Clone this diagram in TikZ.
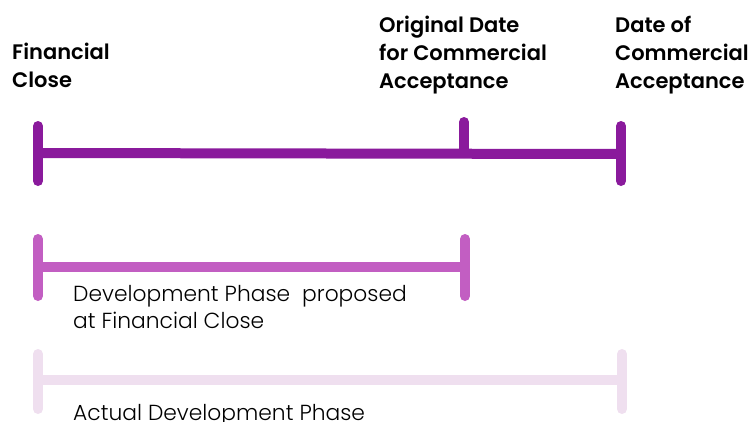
\documentclass[tikz,border=0pt]{standalone}
\usepackage{fontspec}
\setmainfont{Poppins}
\newfontfamily\popsemi{Poppins SemiBold}
\newfontfamily\poplight{Poppins Light}
\definecolor{barA}{HTML}{8A1A9C}
\definecolor{barB}{HTML}{C25EC2}
\definecolor{barC}{HTML}{EFDFEF}
\begin{document}
\begin{tikzpicture}[x=1pt,y=-1pt,
  bar/.style={line width=10pt,line cap=round},
  toplabel/.style={anchor=base west,inner sep=0pt,align=left,font=\popsemi\fontsize{21}{28}\selectfont},
  sublabel/.style={anchor=base west,inner sep=0pt,align=left,font=\poplight\fontsize{21.8}{27}\selectfont}]
\useasboundingbox (0,0) rectangle (751,421);
% top timeline
\coordinate (a1t) at (38,126); \coordinate (a1b) at (38,181);
\coordinate (a1m) at (38,153);
\coordinate (a2t) at (464,122); \coordinate (a2m) at (464,153);
\coordinate (a3t) at (621,126); \coordinate (a3b) at (621,181);
\coordinate (a3m) at (621,154);
\draw[bar,barA] (a1t) -- (a1b);
\draw[bar,barA] (a3t) -- (a3b);
\draw[bar,barA] (a2t) -- (a2m);
\draw[barA,line width=10pt] (a1m) -- (a3m);
% proposed
\coordinate (b1t) at (38,239); \coordinate (b1b) at (38,296);
\coordinate (b1m) at (38,267);
\coordinate (b2t) at (465,239); \coordinate (b2b) at (465,296);
\coordinate (b2m) at (465,267);
\draw[bar,barB] (b1t) -- (b1b);
\draw[bar,barB] (b2t) -- (b2b);
\draw[barB,line width=10pt] (b1m) -- (b2m);
% actual
\coordinate (c1t) at (38,354); \coordinate (c1b) at (38,409);
\coordinate (c1m) at (38,380);
\coordinate (c2t) at (622,354); \coordinate (c2b) at (622,409);
\coordinate (c2m) at (622,380);
\draw[bar,barC] (c1t) -- (c1b);
\draw[bar,barC] (c2t) -- (c2b);
\draw[barC,line width=10pt] (c1m) -- (c2m);
% labels
\node[toplabel] (fc) at (12,87) {Financial\\Close};
\node[toplabel] (od) at (379,88) {Original Date\\for Commercial\\Acceptance};
\node[toplabel] (dc) at (615,88) {Date of\\Commercial\\Acceptance};
\node[sublabel] (dp) at (73,328) {Development Phase\ \ proposed\\at Financial Close};
\node[sublabel] (ad) at (73,420) {Actual Development Phase};
\end{tikzpicture}
\end{document}
